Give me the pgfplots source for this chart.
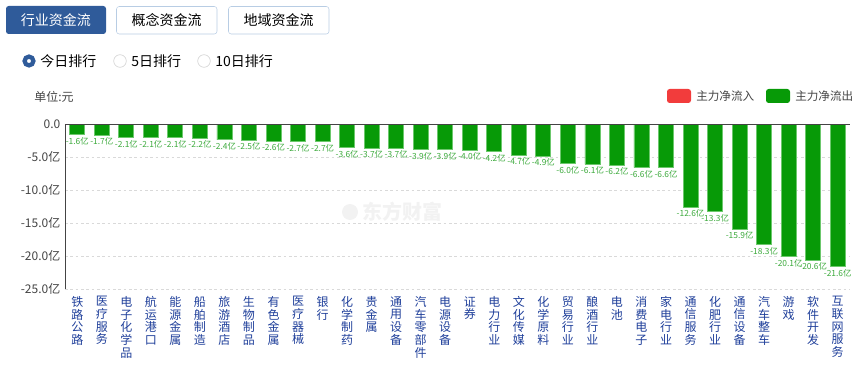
\documentclass[border=0pt]{standalone}
\usepackage{fontspec}
\setmainfont{Noto Sans CJK SC}
\usepackage{pgfplots}
\pgfplotsset{compat=1.18}
\definecolor{barg}{HTML}{079A07}
\definecolor{baredge}{HTML}{6CC86C}
\definecolor{lblg}{HTML}{3DAA3D}
\definecolor{xlab}{HTML}{1F3F9A}
\definecolor{btnblue}{HTML}{2F5B9A}
\definecolor{btnedge}{HTML}{B8CDE4}
\definecolor{txtgray}{HTML}{444444}
\definecolor{legred}{HTML}{F23C3C}
\pgfplotstableread{
x y
0 -1.6
1 -1.7
2 -2.1
3 -2.1
4 -2.1
5 -2.2
6 -2.4
7 -2.5
8 -2.6
9 -2.7
10 -2.7
11 -3.6
12 -3.7
13 -3.7
14 -3.9
15 -3.9
16 -4.0
17 -4.2
18 -4.7
19 -4.9
20 -6.0
21 -6.1
22 -6.2
23 -6.6
24 -6.6
25 -12.6
26 -13.3
27 -15.9
28 -18.3
29 -20.1
30 -20.6
31 -21.6
}\flowdata
\begin{document}
\begin{tikzpicture}
\path[use as bounding box] (0,0) rectangle (645.75pt,-275.25pt);
\begin{scope}[x=0.75pt,y=-0.75pt]
% buttons
\fill[btnblue, rounded corners=2pt] (6,6) rectangle (106,34);
\node[white, font=\fontsize{10.5pt}{12pt}\selectfont] at (56,20) {行业资金流};
\draw[btnedge, rounded corners=2pt] (116.5,6.5) rectangle (217,34);
\node[black, font=\fontsize{10.5pt}{12pt}\selectfont] at (166.5,20) {概念资金流};
\draw[btnedge, rounded corners=2pt] (228.5,6.5) rectangle (329,34);
\node[black, font=\fontsize{10.5pt}{12pt}\selectfont] at (278.5,20) {地域资金流};
% radios
\draw[btnblue, line width=3.2pt] (29,61) circle (4.4);
\draw[gray!40] (120,61) circle (6.3);
\draw[gray!40] (204,61) circle (6.3);
\node[anchor=west, inner sep=0, font=\fontsize{10.5pt}{12pt}\selectfont] at (40,61) {今日排行};
\node[anchor=west, inner sep=0, font=\fontsize{10.5pt}{12pt}\selectfont] at (131,61) {5日排行};
\node[anchor=west, inner sep=0, font=\fontsize{10.5pt}{12pt}\selectfont] at (215,61) {10日排行};
% unit
\node[anchor=west, inner sep=0, txtgray, font=\fontsize{9pt}{10pt}\selectfont] at (34,97) {单位:元};
% legend
\fill[legred, rounded corners=2pt] (667,89) rectangle (691,103);
\node[anchor=west, inner sep=0, txtgray, font=\fontsize{8.7pt}{10pt}\selectfont] at (696,96) {主力净流入};
\fill[barg, rounded corners=2pt] (766,89) rectangle (790,103);
\node[anchor=west, inner sep=0, txtgray, font=\fontsize{8.7pt}{10pt}\selectfont] at (795,96) {主力净流出};
% watermark
\node[anchor=west, inner sep=0, gray!10, font=\fontsize{15pt}{16pt}\selectfont\bfseries] at (362,212) {东方财富};
\fill[gray!10] (350,212) circle (8);
\end{scope}
\begin{axis}[
  at={(48.75pt,-216.75pt)}, anchor=south west,
  scale only axis, width=588.75pt, height=123.75pt,
  xmin=-0.5, xmax=31.5, ymin=-25, ymax=0,
  axis line style={draw=none},
  major tick length=0pt,
  ytick={0,-5,-10,-15,-20,-25},
  yticklabels={0.0,-5.0亿,-10.0亿,-15.0亿,-20.0亿,-25.0亿},
  yticklabel style={font=\fontsize{9pt}{10pt}\selectfont, text=txtgray},
  ymajorgrids,
  grid style={draw=gray!30, dash pattern=on 2pt off 2pt, line width=0.5pt},
  xtick={0,...,31},
  xticklabels={{铁\\路\\公\\路},{医\\疗\\服\\务},{电\\子\\化\\学\\品},{航\\运\\港\\口},{能\\源\\金\\属},{船\\舶\\制\\造},{旅\\游\\酒\\店},{生\\物\\制\\品},{有\\色\\金\\属},{医\\疗\\器\\械},{银\\行},{化\\学\\制\\药},{贵\\金\\属},{通\\用\\设\\备},{汽\\车\\零\\部\\件},{电\\源\\设\\备},{证\\券},{电\\力\\行\\业},{文\\化\\传\\媒},{化\\学\\原\\料},{贸\\易\\行\\业},{酿\\酒\\行\\业},{电\\池},{消\\费\\电\\子},{家\\电\\行\\业},{通\\信\\服\\务},{化\\肥\\行\\业},{通\\信\\设\\备},{汽\\车\\整\\车},{游\\戏},{软\\件\\开\\发},{互\\联\\网\\服\\务}},
  xticklabel style={align=center, anchor=north, yshift=-2pt, text=xlab, font=\fontsize{9pt}{9.5pt}\selectfont},
  ybar, bar width=11.25pt,
  nodes near coords={\pgfmathprintnumber[fixed,precision=1,fixed zerofill,assume math mode=true]{\pgfplotspointmeta}亿},
  point meta=y,
  every node near coord/.append style={text=lblg, font=\fontsize{6.3pt}{7pt}\selectfont, inner sep=1.5pt},
  clip=false,
]
\addplot[fill=barg, draw=baredge, line width=0.6pt] table[x=x,y=y] {\flowdata};
\draw[txtgray, line width=0.7pt] (axis cs:-0.5,0) -- (axis cs:31.5,0);
\draw[txtgray, line width=0.7pt] (axis cs:-0.5,0) -- (axis cs:-0.5,-25);
\end{axis}
\end{tikzpicture}
\end{document}
